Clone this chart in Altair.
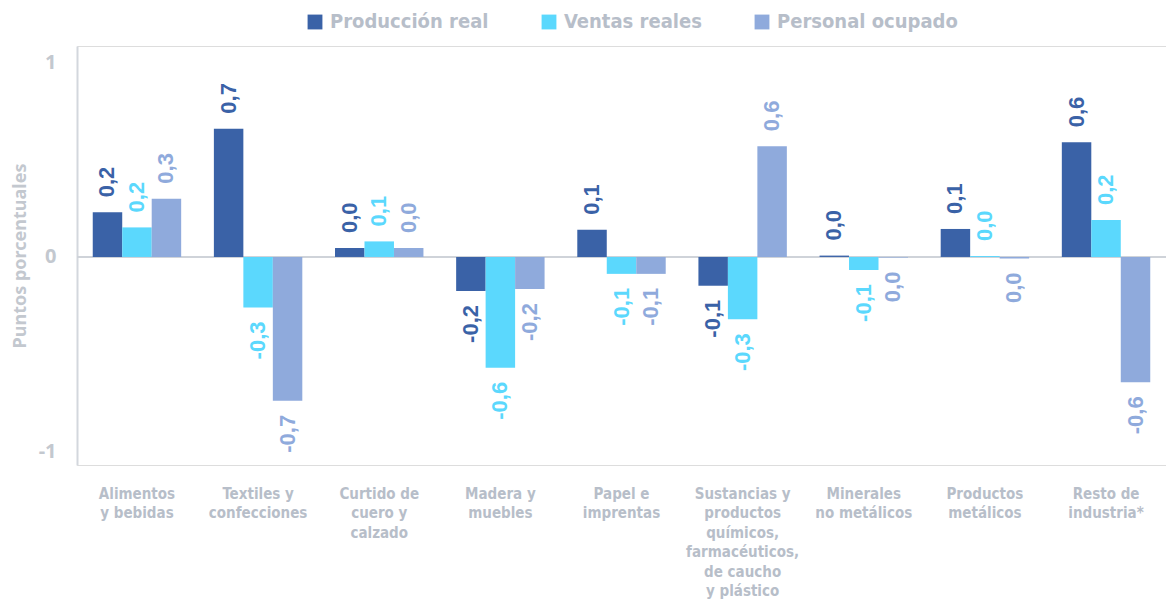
import altair as alt
import pandas as pd

categories = [
    "Alimentos|y bebidas",
    "Textiles y|confecciones",
    "Curtido de|cuero y|calzado",
    "Madera y|muebles",
    "Papel e|imprentas",
    "Sustancias y|productos|químicos,|farmacéuticos,|de caucho|y plástico",
    "Minerales|no metálicos",
    "Productos|metálicos",
    "Resto de|industria*",
]
series = ["Producción real", "Ventas reales", "Personal ocupado"]
produccion = [0.23, 0.66, 0.046, -0.175, 0.14, -0.148, 0.007, 0.144, 0.59]
ventas = [0.152, -0.26, 0.08, -0.57, -0.087, -0.32, -0.067, 0.005, 0.19]
personal = [0.30, -0.74, 0.046, -0.165, -0.087, 0.57, -0.003, -0.008, -0.645]
y_ticks = [-1, 0, 1]
colors = ["#3a62a7", "#5bd8fd", "#8faadc"]

rows = []
for i, c in enumerate(categories):
    for s, vals in zip(series, [produccion, ventas, personal]):
        v = vals[i]
        t = f"{abs(v):.1f}"
        if v < 0 and t != "0.0":
            t = "-" + t
        rows.append(dict(cat=c, serie=s, valor=v, etiqueta=t.replace(".", ",")))
df = pd.DataFrame(rows)

NARROW = "Liberation Sans Narrow, DejaVu Sans Condensed, sans-serif"
GRAY = "#b7bec9"

x = alt.X(
    "cat:N",
    sort=categories,
    scale=alt.Scale(paddingInner=0.27, paddingOuter=0.13),
    axis=alt.Axis(
        title=None,
        labelExpr="split(datum.label, '|')",
        labelAngle=0,
        ticks=False,
        domain=False,
        labelFont=NARROW,
        labelFontSize=15,
        labelFontWeight="bold",
        labelColor=GRAY,
        labelLineHeight=19.5,
        labelPadding=21,
        labelLimit=300,
    ),
)
xo = alt.XOffset("serie:N", sort=series, scale=alt.Scale(paddingInner=0))
y = alt.Y(
    "valor:Q",
    scale=alt.Scale(domain=[-1.07, 1.085], nice=False, zero=False),
    axis=alt.Axis(
        values=y_ticks,
        labelExpr="'' + datum.value",
        title="Puntos porcentuales",
        grid=False,
        ticks=False,
        domainColor="#d3d7dd",
        domainWidth=2,
        labelFont="Noto Sans",
        labelFontSize=20,
        labelFontWeight="bold",
        labelColor="#c3c8cf",
        labelPadding=21,
        titleFont="Noto Sans",
        titleFontSize=18,
        titleFontWeight="bold",
        titleColor="#c3c8cf",
        titlePadding=9,
    ),
)
color_scale = alt.Scale(domain=series, range=colors)

base = alt.Chart(df)

bars = base.mark_bar().encode(
    x=x,
    xOffset=xo,
    y=y,
    color=alt.Color(
        "serie:N",
        sort=series,
        scale=color_scale,
        legend=alt.Legend(
            title=None,
            orient="none",
            legendX=228,
            legendY=-34,
            direction="horizontal",
            symbolType="square",
            symbolSize=220,
            symbolStrokeWidth=0,
            labelFont=NARROW,
            labelFontSize=20,
            labelFontWeight="bold",
            labelColor=GRAY,
            labelOffset=5,
            columnPadding=50,
            labelLimit=300,
        ),
    ),
)

zero = alt.Chart(pd.DataFrame({"z": [0]})).mark_rule(color="#cfd3d9", strokeWidth=2).encode(
    y=alt.Y("z:Q")
)

txt_color = alt.Color("serie:N", sort=series, scale=color_scale, legend=None)
pos = base.transform_filter("datum.valor >= 0").mark_text(
    angle=270, align="left", baseline="middle", dx=15,
    font="Liberation Sans", fontSize=22, fontWeight="bold",
).encode(x=x, xOffset=xo, y=y, text="etiqueta:N", color=txt_color)
neg = base.transform_filter("datum.valor < 0").mark_text(
    angle=270, align="right", baseline="middle", dx=-14,
    font="Liberation Sans", fontSize=22, fontWeight="bold",
).encode(x=x, xOffset=xo, y=y, text="etiqueta:N", color=txt_color)

chart = (
    alt.layer(zero, bars, pos, neg)
    .properties(
        width=1089,
        height=419,
        autosize=alt.AutoSizeParams(type="none"),
        padding={"left": 77, "top": 46, "right": 0, "bottom": 137},
    )
    .configure_view(stroke=None)
    .configure(background="white")
)

chart.save("out.html", embed_options={"renderer": "svg", "actions": False})
